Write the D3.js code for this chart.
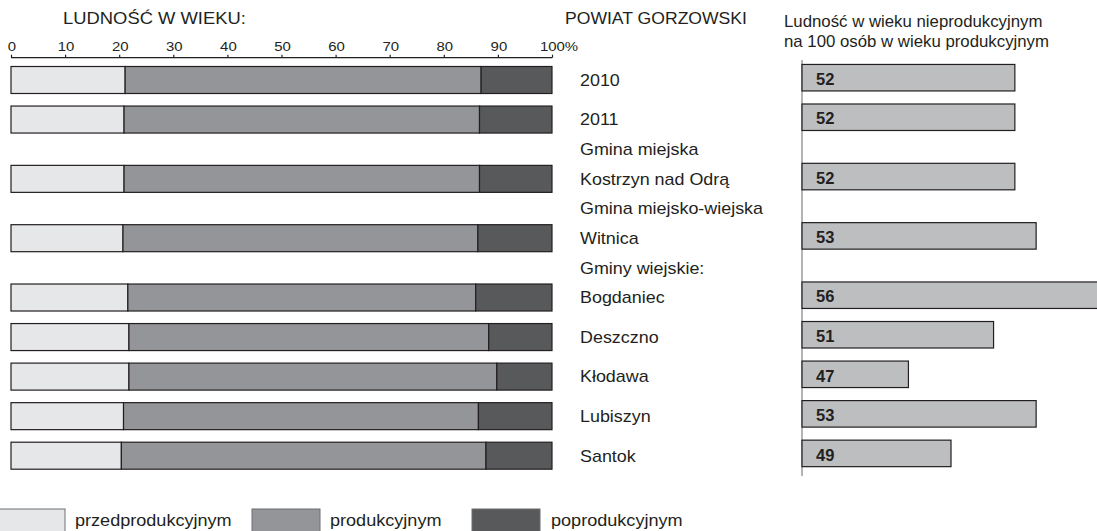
<!DOCTYPE html>
<html>
<head>
<meta charset="utf-8">
<script src="https://cdn.jsdelivr.net/npm/d3@7"></script>
<style>
  html, body { margin: 0; padding: 0; background: #ffffff; }
  svg { display: block; }
  text { font-family: "Liberation Sans", Arial, sans-serif; fill: #231f20; }
</style>
</head>
<body>
<svg id="chart" width="1097" height="531"></svg>
<script>
// ---- data ----
const rowLabels = ["2010", "2011", "Gmina miejska", "Kostrzyn nad Odrą", "Gmina miejsko-wiejska",
  "Witnica", "Gminy wiejskie:", "Bogdaniec", "Deszczno", "Kłodawa", "Lubiszyn", "Santok"];
const headerRows = ["Gmina miejska", "Gmina miejsko-wiejska", "Gminy wiejskie:"];
const categories = ["2010", "2011", "Kostrzyn nad Odrą", "Witnica", "Bogdaniec", "Deszczno", "Kłodawa", "Lubiszyn", "Santok"];
const preProductive  = [21.1, 20.9, 20.9, 20.7, 21.6, 21.8, 21.8, 20.8, 20.4];
const productive     = [65.8, 65.7, 65.7, 65.6, 64.3, 66.5, 68.0, 65.6, 67.4];
const postProductive = [13.1, 13.4, 13.4, 13.7, 14.1, 11.7, 10.2, 13.6, 12.2];
const dependencyRatio = [52, 52, 52, 53, 56, 51, 47, 53, 49];
const percentTicks = [0, 10, 20, 30, 40, 50, 60, 70, 80, 90, 100];
const legendLabels = ["przedprodukcyjnym", "produkcyjnym", "poprodukcyjnym"];
const leftTitle = "LUDNOŚĆ W WIEKU:";
const centerTitle = "POWIAT GORZOWSKI";
const rightTitle = ["Ludność w wieku nieprodukcyjnym", "na 100 osób w wieku produkcyjnym"];

// ---- styles ----
const segColors = ["#e6e7e8", "#939598", "#58595b"];
const rightBarColor = "#bcbec0";
const strokeDark = "#231f20";

const svg = d3.select("#chart");

function label(g, x, y, txt, size, sx, opts = {}) {
  const t = g.append("text")
    .attr("transform", `translate(${x},${y}) scale(${sx},1)`)
    .attr("font-size", size)
    .attr("text-anchor", opts.anchor || "start")
    .text(txt);
  if (opts.bold) t.attr("font-weight", "bold");
  return t;
}

// row positions (units) : header rows take half-slot gaps
const rowUnits = [];
{
  let pos = 0, prevBar = null, pendingHeader = null;
  rowLabels.forEach((r, i) => {
    if (headerRows.includes(r)) {
      pendingHeader = i;
    } else {
      if (prevBar === null) pos = 0;
      else pos = prevBar + (pendingHeader !== null ? 1.5 : 1);
      if (pendingHeader !== null) rowUnits[pendingHeader] = pos - 0.75;
      rowUnits[i] = pos;
      prevBar = pos;
      pendingHeader = null;
    }
  });
}
const y = d3.scaleLinear().domain([0, 9.5]).range([80, 455.7]);
const barRowUnits = rowLabels.map((r, i) => ({ r, u: rowUnits[i] })).filter(d => !headerRows.includes(d.r)).map(d => d.u);

// ---- left stacked chart ----
const x = d3.scaleLinear().domain([0, 100]).range([11, 552]);
const axisY = 57.7;
const axisG = svg.append("g").attr("transform", `translate(0,${axisY})`);
axisG.call(d3.axisTop(x).tickValues(percentTicks).tickSize(3).tickFormat(""))
  .call(g => g.select(".domain").attr("stroke", strokeDark).attr("stroke-width", 1.2).attr("d", `M${x(0)},0H${x(100)}`))
  .call(g => g.selectAll(".tick line").attr("stroke", strokeDark).attr("stroke-width", 1.2));
percentTicks.forEach(t => {
  const txt = t === 100 ? "100%" : String(t);
  label(svg, x(t) + (t === 100 ? 7 : 1), 50.5, txt, 13, 1.15, { anchor: "middle" });
});

label(svg, 63, 24, leftTitle, 16, 1.15);
label(svg, 565, 24, centerTitle, 16, 1.1);

const barH = 27;
const stackData = categories.map((c, i) => ({ c, u: barRowUnits[i], vals: [preProductive[i], productive[i], postProductive[i]] }));
const barsG = svg.append("g");
stackData.forEach(d => {
  let acc = 0;
  d.vals.forEach((v, k) => {
    barsG.append("rect")
      .attr("x", x(acc))
      .attr("y", y(d.u) - barH / 2)
      .attr("width", x(acc + v) - x(acc))
      .attr("height", barH)
      .attr("fill", segColors[k])
      .attr("stroke", strokeDark)
      .attr("stroke-width", 1.2);
    acc += v;
  });
});

// row labels
rowLabels.forEach((r, i) => {
  label(svg, 580, y(rowUnits[i]) + 5.8, r, 16, 1.12);
});

// ---- right chart ----
const xr = d3.scaleLinear().domain([42, 56]).range([802, 1100]);
rightTitle.forEach((t, i) => label(svg, 784, 26.5 + i * 20, t, 16, 1.05));
svg.append("line")
  .attr("x1", xr(42)).attr("x2", xr(42))
  .attr("y1", 60).attr("y2", 476)
  .attr("stroke", "#808285").attr("stroke-width", 1.2);
const rbH = 26.5;
dependencyRatio.forEach((v, i) => {
  const cy = y(barRowUnits[i]) - 2.3;
  svg.append("rect")
    .attr("x", xr(42))
    .attr("y", cy - rbH / 2)
    .attr("width", xr(v) - xr(42))
    .attr("height", rbH)
    .attr("fill", rightBarColor)
    .attr("stroke", strokeDark)
    .attr("stroke-width", 1.2);
  label(svg, xr(42) + 14, cy + rbH / 2 - 6, String(v), 16.5, 1.0, { bold: true });
});

// ---- legend ----
const legendBoxX = [-3, 252, 472];
const legendTextX = [75, 330, 551];
legendLabels.forEach((l, i) => {
  svg.append("rect")
    .attr("x", legendBoxX[i]).attr("y", 509)
    .attr("width", 68).attr("height", 30)
    .attr("fill", segColors[i])
    .attr("stroke", "#6d6e71").attr("stroke-width", 1);
  label(svg, legendTextX[i], 526, l, 16, 1.13);
});
</script>
</body>
</html>
